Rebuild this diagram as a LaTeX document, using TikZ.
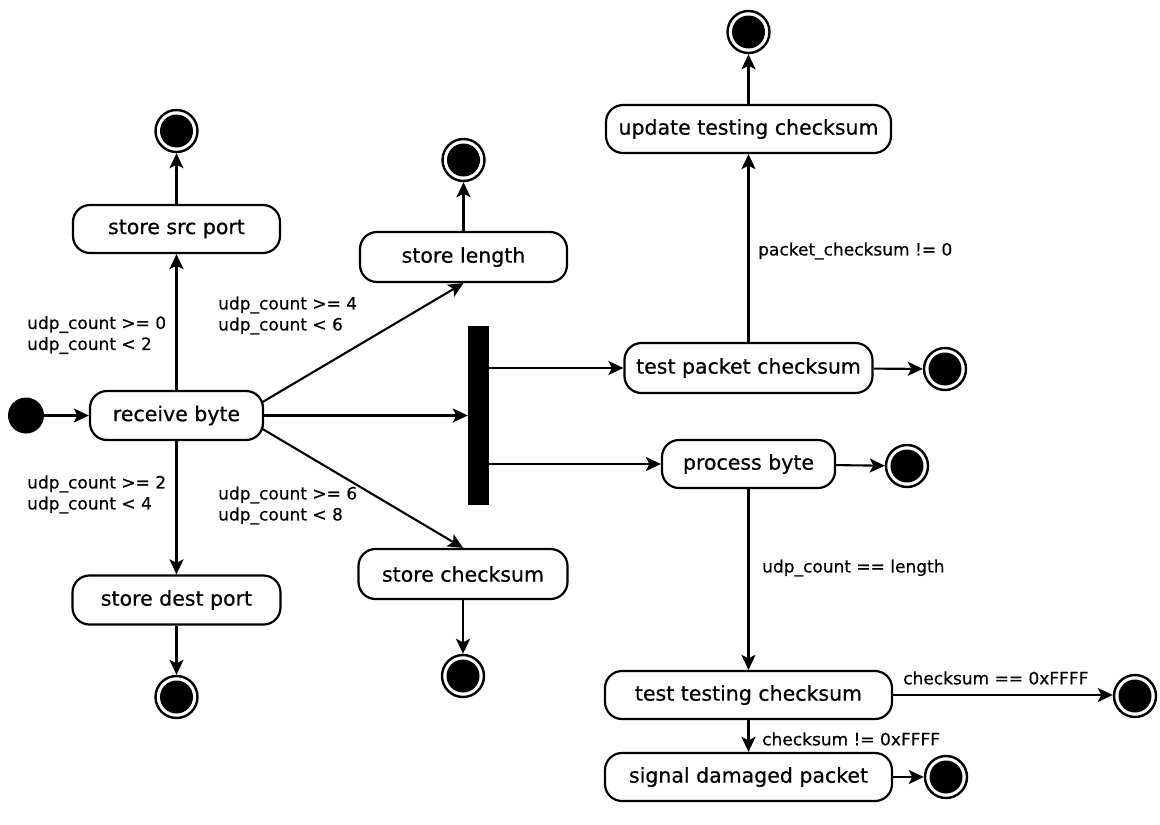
\documentclass[tikz,border=0pt]{standalone}
\usepackage{fontspec}
\setmainfont{DejaVu Sans}[FakeBold=0.8]
\usetikzlibrary{arrows.meta}

\tikzset{
  activity/.style={draw, line width=2.2pt, rounded corners=17pt, minimum height=48pt,
    inner sep=0pt, align=center, font=\fontsize{20.5}{24}\selectfont\addfontfeature{FakeBold=0.6}},
  initdot/.style={circle, fill=black, minimum size=36pt, inner sep=0pt},
  finaldot/.style={circle, draw, line width=2.4pt, minimum size=42pt, inner sep=0pt,
    path picture={\fill[black] (path picture bounding box.center) circle (16.5pt);}},
  forkbar/.style={rectangle, fill=black, minimum width=21pt, minimum height=179pt, inner sep=0pt},
  guard/.style={align=left, inner sep=0pt, font=\fontsize{17}{21}\selectfont\addfontfeature{FakeBold=0.5}},
  flow/.style={line width=2.1pt, -{Stealth[length=15pt, width=14pt, inset=3.5pt]}}
}

\begin{document}
\begin{tikzpicture}[x=1pt, y=-1pt]
  \useasboundingbox (0,0) rectangle (1160,825);

  % left column: receive and store ports
  \node[initdot] (init) at (26,415.5) {};
  \node[activity, minimum width=173pt, minimum height=49pt] (recv) at (176.5,415.5) {receive byte};
  \node[activity, minimum width=207pt] (src) at (176.5,229) {store src port};
  \node[finaldot] (fsrc) at (176.5,131) {};
  \node[activity, minimum width=208pt, minimum height=49pt] (dest) at (176.5,600) {store dest port};
  \node[finaldot] (fdest) at (176.5,697) {};

  % middle column: length, checksum and the fork
  \node[activity, minimum width=207pt, minimum height=50pt] (len) at (463.5,257) {store length};
  \node[finaldot] (flen) at (463.5,160) {};
  \node[activity, minimum width=209pt, minimum height=50pt] (csum) at (463,574) {store checksum};
  \node[finaldot] (fcsum) at (463,676) {};
  \node[forkbar] (fork) at (478.5,415.5) {};

  % right column: checksum testing
  \node[activity, minimum width=248pt, minimum height=50pt] (tpc) at (748.5,368) {test packet checksum};
  \node[finaldot] (ftpc) at (945,369) {};
  \node[activity, minimum width=285pt] (utc) at (748.5,129) {update testing checksum};
  \node[finaldot] (futc) at (748.5,32) {};
  \node[activity, minimum width=173pt] (proc) at (748.5,464) {process byte};
  \node[finaldot] (fproc) at (907,466) {};
  \node[activity, minimum width=287pt] (ttc) at (748.5,695) {test testing checksum};
  \node[finaldot] (fttc) at (1135,696) {};
  \node[activity, minimum width=287pt] (sig) at (748.5,777) {signal damaged packet};
  \node[finaldot] (fsig) at (946,777) {};

  % guard conditions
  \node[guard, anchor=west] (g1) at (27,335) {udp\_count >= 0\\udp\_count < 2};
  \node[guard, anchor=west] (g2) at (27,494.5) {udp\_count >= 2\\udp\_count < 4};
  \node[guard, anchor=west] (g3) at (218,315.5) {udp\_count >= 4\\udp\_count < 6};
  \node[guard, anchor=west] (g4) at (218,505.5) {udp\_count >= 6\\udp\_count < 8};
  \node[guard, anchor=west] (g5) at (758,251) {packet\_checksum != 0};
  \node[guard, anchor=west] (g6) at (762,568) {udp\_count == length};
  \node[guard, anchor=west] (g7) at (903,678) {checksum == 0xFFFF};
  \node[guard, anchor=west] (g8) at (762,739) {checksum != 0xFFFF};

  % transitions
  \draw[flow] (init) -- (recv);
  \draw[flow] (recv) -- (src);
  \draw[flow] (src) -- (fsrc);
  \draw[flow] (recv) -- (dest);
  \draw[flow] (dest) -- (fdest);
  \draw[flow] ([xshift=-1.5pt, yshift=13.5pt]recv.east) -- (len.south);
  \draw[flow] (len) -- (flen);
  \draw[flow] ([xshift=-1.5pt, yshift=-13.5pt]recv.east) -- (csum.north);
  \draw[flow] (csum) -- (fcsum);
  \draw[flow] (recv.east) -- (recv.east -| fork.west);
  \draw[flow] (fork.east |- tpc.west) -- (tpc.west);
  \draw[flow] (fork.east |- proc.west) -- (proc.west);
  \draw[flow] (tpc) -- (utc);
  \draw[flow] (utc) -- (futc);
  \draw[flow] (tpc) -- (ftpc);
  \draw[flow] (proc) -- (fproc);
  \draw[flow] (proc) -- (ttc);
  \draw[flow] (ttc.east) -- (ttc.east -| fttc.west);
  \draw[flow] (ttc) -- (sig);
  \draw[flow] (sig) -- (fsig);
\end{tikzpicture}
\end{document}
